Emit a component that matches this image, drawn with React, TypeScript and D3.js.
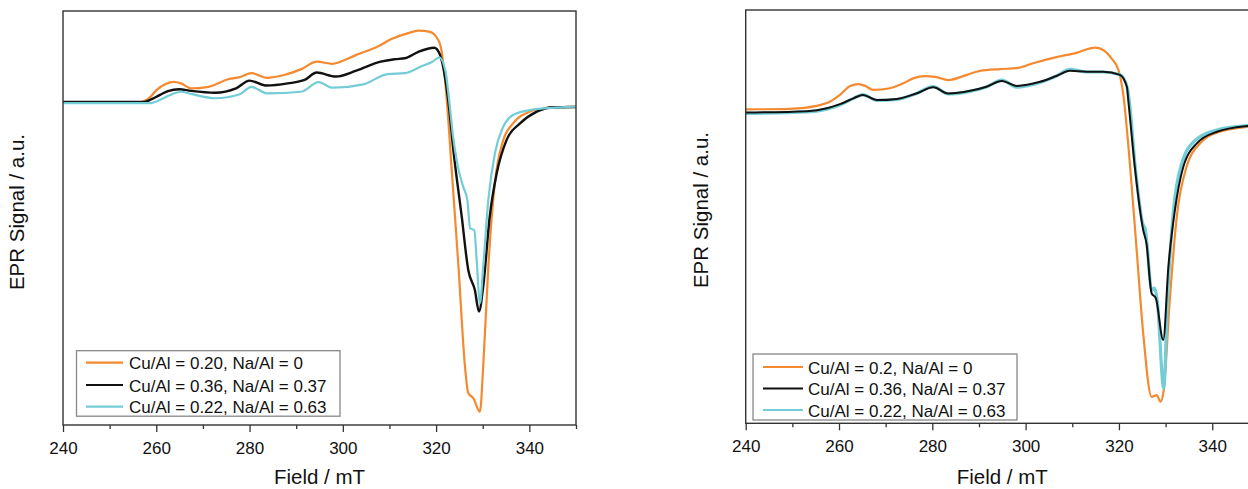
import React, { useEffect, useRef } from "react";
import * as d3 from "d3";

// field axis (mT)
const fieldDomain: [number, number] = [240, 350];
const majorTicks = [240, 260, 280, 300, 320, 340];
const minorTicks = [250, 270, 290, 310, 330, 350];

// left panel spectra: [field mT, signal a.u.]
const leftOrange: [number, number][] = [
  [240, 0], [256.7, 0], [258.5, 0.013], [260.1, 0.039], [262, 0.058], [263.8, 0.065],
  [265.3, 0.06], [267.4, 0.044], [271.2, 0.049], [275.6, 0.074], [277.9, 0.08],
  [280.4, 0.093], [283.7, 0.078], [287.4, 0.087], [291.1, 0.106], [294.4, 0.13],
  [297.8, 0.123], [299.2, 0.128], [302.9, 0.152], [307.4, 0.178], [310.3, 0.202],
  [314, 0.222], [316.2, 0.23], [318.5, 0.227], [319.9, 0.213], [321, 0.178],
  [322.3, 0.005], [323.3, -0.209], [324.8, -0.531], [326.2, -0.854], [326.9, -0.939],
  [328, -0.956], [329.4, -0.999], [330.1, -0.854], [331.2, -0.531], [332.6, -0.261],
  [334.4, -0.123], [336.5, -0.069], [340.1, -0.031], [343.7, -0.02], [350, -0.015],
];
const leftBlack: [number, number][] = [
  [240, 0], [257.4, 0], [259, 0.009], [260.8, 0.023], [262.5, 0.035], [264.9, 0.041],
  [267.4, 0.036], [272.6, 0.03], [277.1, 0.044], [280, 0.069], [283.7, 0.053],
  [288.2, 0.06], [291.8, 0.071], [294.4, 0.095], [298.5, 0.082], [302.9, 0.101],
  [308.1, 0.13], [311.1, 0.138], [313.3, 0.141], [316.2, 0.162], [319.6, 0.175],
  [320.7, 0.157], [322.6, 0.006], [323.7, -0.155], [325.5, -0.37], [326.9, -0.542],
  [328.3, -0.606], [329.2, -0.676], [330.1, -0.596], [331.5, -0.37], [333, -0.23],
  [335.1, -0.123], [338, -0.069], [341.6, -0.031], [345.1, -0.017], [350, -0.016],
];
const leftCyan: [number, number][] = [
  [240, -0.004], [258.5, -0.004], [261.5, 0.012], [263.5, 0.026], [265.3, 0.033],
  [267.4, 0.026], [272.6, 0.012], [277.9, 0.025], [280.4, 0.049], [283.7, 0.028],
  [291.1, 0.033], [294.8, 0.064], [297.8, 0.046], [304.4, 0.057], [309.6, 0.09],
  [313.3, 0.093], [317, 0.116], [319.2, 0.13], [320.7, 0.144], [322, 0.1],
  [322.8, 0.006], [323.6, -0.106], [324.6, -0.203], [325.8, -0.273], [326.7, -0.316],
  [327.3, -0.408], [328.2, -0.413], [328.7, -0.51], [329.4, -0.649], [330.1, -0.531],
  [331.2, -0.316], [332.6, -0.166], [334.4, -0.08], [336.5, -0.042], [340.1, -0.026],
  [350, -0.015],
];

// right panel spectra
const rightOrange: [number, number][] = [
  [240, 0.009], [249.5, 0.011], [255.2, 0.021], [258.1, 0.036], [260.2, 0.059],
  [262.4, 0.09], [264.1, 0.096], [265.6, 0.09], [267.3, 0.076], [270.9, 0.082],
  [273.8, 0.099], [275.9, 0.116], [278.4, 0.124], [280.9, 0.12], [283.4, 0.11],
  [287.4, 0.128], [290.2, 0.142], [294.5, 0.148], [298.1, 0.151], [301.6, 0.168],
  [306.6, 0.189], [310.9, 0.204], [314.9, 0.222], [316.6, 0.214], [318.4, 0.185],
  [319.9, 0.145], [320.9, 0.064], [322.4, -0.189], [323.8, -0.476], [325.2, -0.763],
  [327, -0.982], [328.1, -0.976], [328.9, -0.999], [329.6, -0.959], [330.9, -0.648],
  [332.4, -0.361], [334.5, -0.189], [337.4, -0.108], [341.6, -0.068], [347.6, -0.051],
  [350, -0.047],
];
const rightBlack: [number, number][] = [
  [240, -0.002], [253.1, 0.003], [257.4, 0.013], [260.2, 0.027], [263.1, 0.047],
  [265.1, 0.059], [268.1, 0.041], [272.4, 0.045], [276.6, 0.064], [280.2, 0.085],
  [283.4, 0.064], [288.1, 0.073], [291.6, 0.087], [294.9, 0.107], [298.1, 0.09],
  [303.1, 0.104], [306.6, 0.124], [309.5, 0.142], [313.1, 0.139], [316.6, 0.139],
  [320.2, 0.128], [321.7, 0.087], [322, 0.041], [323.4, -0.189], [325.2, -0.407],
  [325.9, -0.453], [327, -0.625], [327.9, -0.642], [329.5, -0.786], [330.6, -0.533],
  [332, -0.338], [333.8, -0.189], [336.7, -0.108], [341, -0.068], [347.6, -0.048],
  [350, -0.045],
];
const rightCyan: [number, number][] = [
  [240, -0.005], [253.1, 0], [257.4, 0.01], [260.2, 0.024], [263.1, 0.047],
  [265.1, 0.06], [268.1, 0.04], [272.4, 0.043], [276.6, 0.064], [280.2, 0.088],
  [283.4, 0.062], [288.1, 0.071], [291.6, 0.086], [294.9, 0.11], [298.1, 0.086],
  [303.1, 0.102], [306.6, 0.124], [309.5, 0.147], [313.1, 0.138], [316.6, 0.138],
  [320.2, 0.129], [321.8, 0.083], [322.2, 0.041], [323.5, -0.189], [325.2, -0.39],
  [325.6, -0.4], [326, -0.453], [327, -0.614], [327.6, -0.607], [328.2, -0.648],
  [329.6, -0.952], [330.4, -0.648], [331.7, -0.338], [333.5, -0.176], [336.4, -0.097],
  [341, -0.062], [347.6, -0.047], [350, -0.043],
];

const leftLabels = ["Cu/Al = 0.20, Na/Al = 0", "Cu/Al = 0.36, Na/Al = 0.37", "Cu/Al = 0.22, Na/Al = 0.63"];
const rightLabels = ["Cu/Al = 0.2, Na/Al = 0", "Cu/Al = 0.36, Na/Al = 0.37", "Cu/Al = 0.22, Na/Al = 0.63"];
const colors = ["#f5892f", "#111111", "#72cdd6"];

const FONT = "'Liberation Sans', Arial, Helvetica, sans-serif";

const panels = [
  {
    id: "l",
    left: 63, right: 576, top: 11, bottom: 425,
    yDomain: [-1.042, 0.2935],
    series: [leftOrange, leftBlack, leftCyan],
    order: [0, 1, 2],
    widths: [2.2, 2.4, 2.2],
    labels: leftLabels,
    legend: { x: 76.5, y: 350.7, w: 263.5, h: 65.5, rows: [362.7, 385, 406.7], lx0: 86, lx1: 123, tx: 129 },
    yTitle: { x: 23.5, y: 212 },
  },
  {
    id: "r",
    left: 745.7, right: 1258.9, top: 10, bottom: 423.3,
    yDomain: [-1.0734, 0.3517],
    series: [rightOrange, rightBlack, rightCyan],
    order: [0, 2, 1],
    widths: [2.2, 2, 3.2],
    labels: rightLabels,
    legend: { x: 753, y: 354, w: 264, h: 66, rows: [367, 388.5, 410], lx0: 763, lx1: 803, tx: 808 },
    yTitle: { x: 708, y: 210 },
  },
];

const App = () => {
  const ref = useRef<SVGSVGElement>(null);

  useEffect(() => {
    const svg = d3.select(ref.current);
    svg.selectAll("*").remove();

    panels.forEach((p) => {
      const x = d3.scaleLinear().domain(fieldDomain).range([p.left, p.right]);
      const y = d3.scaleLinear().domain(p.yDomain).range([p.bottom, p.top]);
      const g = svg.append("g");

      g.append("clipPath")
        .attr("id", `clip-${p.id}`)
        .append("rect")
        .attr("x", p.left)
        .attr("y", p.top)
        .attr("width", p.right - p.left)
        .attr("height", p.bottom - p.top);

      const line = d3
        .line<[number, number]>()
        .x((d) => x(d[0]))
        .y((d) => y(d[1]))
        .curve(d3.curveMonotoneX);

      p.order.forEach((i) => {
        g.append("path")
          .attr("d", line(p.series[i]))
          .attr("fill", "none")
          .attr("stroke", colors[i])
          .attr("stroke-width", p.widths[i])
          .attr("stroke-linejoin", "round")
          .attr("clip-path", `url(#clip-${p.id})`);
      });

      // frame
      g.append("rect")
        .attr("x", p.left)
        .attr("y", p.top)
        .attr("width", p.right - p.left)
        .attr("height", p.bottom - p.top)
        .attr("fill", "none")
        .attr("stroke", "#333")
        .attr("stroke-width", 1.4);

      // x axis
      g.append("g")
        .attr("transform", `translate(0,${p.bottom})`)
        .call(d3.axisBottom(x).tickValues(majorTicks).tickSize(7).tickPadding(10).tickFormat(d3.format("d")))
        .call((a) => a.select(".domain").remove())
        .call((a) => a.selectAll("line").attr("stroke", "#333").attr("stroke-width", 1.3))
        .call((a) => a.selectAll("text").attr("font-size", 17).attr("font-family", FONT).attr("fill", "#111"));

      g.append("g")
        .attr("transform", `translate(0,${p.bottom})`)
        .call(d3.axisBottom(x).tickValues(minorTicks).tickSize(4).tickFormat(() => ""))
        .call((a) => a.select(".domain").remove())
        .call((a) => a.selectAll("line").attr("stroke", "#333").attr("stroke-width", 1.3));

      // titles
      g.append("text")
        .attr("x", (p.left + p.right) / 2)
        .attr("y", 484)
        .attr("text-anchor", "middle")
        .attr("font-family", FONT)
        .attr("font-size", 20.5)
        .attr("fill", "#111")
        .text("Field / mT");

      g.append("text")
        .attr("transform", `translate(${p.yTitle.x},${p.yTitle.y}) rotate(-90)`)
        .attr("text-anchor", "middle")
        .attr("font-family", FONT)
        .attr("font-size", 20.5)
        .attr("fill", "#111")
        .text("EPR Signal / a.u.");

      // legend
      const L = p.legend;
      const lg = g.append("g");
      lg.append("rect")
        .attr("x", L.x)
        .attr("y", L.y)
        .attr("width", L.w)
        .attr("height", L.h)
        .attr("fill", "#fff")
        .attr("stroke", "#888")
        .attr("stroke-width", 1.3);

      p.labels.forEach((lab, i) => {
        lg.append("line")
          .attr("x1", L.lx0)
          .attr("x2", L.lx1)
          .attr("y1", L.rows[i])
          .attr("y2", L.rows[i])
          .attr("stroke", colors[i])
          .attr("stroke-width", 2.2);
        lg.append("text")
          .attr("x", L.tx)
          .attr("y", L.rows[i] + 6.5)
          .attr("font-family", FONT)
          .attr("font-size", 17)
          .attr("fill", "#111")
          .text(lab);
      });
    });
  }, []);

  return (
    <svg
      ref={ref}
      width={1248}
      height={489}
      style={{ position: "absolute", left: 0, top: 0, background: "#fff" }}
    />
  );
};

export default App;
